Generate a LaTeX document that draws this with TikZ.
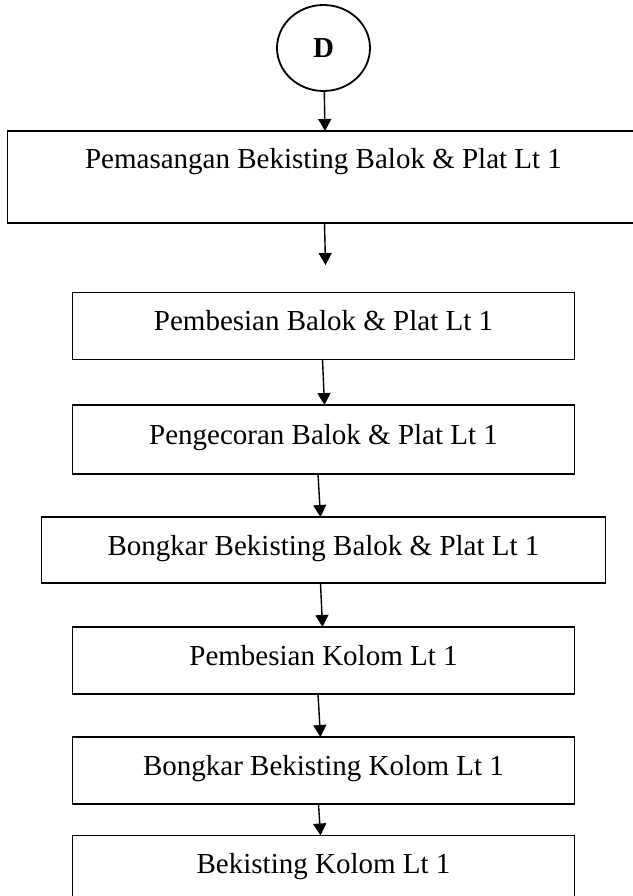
\documentclass[tikz,border=0pt]{standalone}
\usepackage{fontspec}
\setmainfont{Liberation Serif}
\usetikzlibrary{shapes.geometric, positioning, arrows.meta}
\tikzset{
>={Triangle[length=12pt, width=13pt]}, % filled arrow heads
every node/.style={font=\fontsize{29}{34}\selectfont, outer sep=0pt}, % all texts in one size
stepbox/.style={draw, rectangle, inner sep=0pt, minimum width=502pt, text height=38pt, text depth=29pt}, % one step of the work
connector/.style={->, line width=1.4pt}, % arrow between two steps
}

\begin{document}
\begin{tikzpicture}[x=1pt, y=-1pt, line width=1.8pt]
\useasboundingbox (0,0) rectangle (632,896);
\node[draw, ellipse, inner sep=0pt, minimum width=93pt, minimum height=86pt, font=\fontsize{29}{34}\selectfont\bfseries] (D) at (323.5,48) {D};
\node[stepbox, minimum width=632pt, text depth=54pt, below=40pt of D] (PBBP) {Pemasangan Bekisting Balok \& Plat Lt 1};
\node[stepbox, below=69.5pt of PBBP] (PBP) {Pembesian Balok \& Plat Lt 1};
\node[stepbox, text height=39pt, text depth=30pt, below=45.5pt of PBP] (PC) {Pengecoran Balok \& Plat Lt 1};
\node[stepbox, minimum width=564pt, text depth=28pt, below=43pt of PC] (BBBP) {Bongkar Bekisting Balok \& Plat Lt 1};
\node[stepbox, below=44pt of BBBP] (PK) {Pembesian Kolom Lt 1};
\node[stepbox, below=43pt of PK] (BBK) {Bongkar Bekisting Kolom Lt 1};
\node[stepbox, below=31.5pt of BBK] (BK) {Bekisting Kolom Lt 1};
\coordinate (next) at ([xshift=2pt, yshift=-42pt]PBBP.south);

\draw[connector] (D) -- ([xshift=1.5pt]PBBP.north);
\draw[connector] ([xshift=1pt]PBBP.south) -- (next);
\draw[connector] ([xshift=-1pt]PBP.south) -- ([xshift=1pt]PC.north);
\draw[connector] ([xshift=-5.5pt]PC.south) -- ([xshift=-3pt]BBBP.north);
\draw[connector] ([xshift=-3pt]BBBP.south) -- ([xshift=-1pt]PK.north);
\draw[connector] ([xshift=-5.5pt]PK.south) -- ([xshift=-3pt]BBK.north);
\draw[connector] ([xshift=-5pt]BBK.south) -- ([xshift=-3pt]BK.north);
\end{tikzpicture}
\end{document}
